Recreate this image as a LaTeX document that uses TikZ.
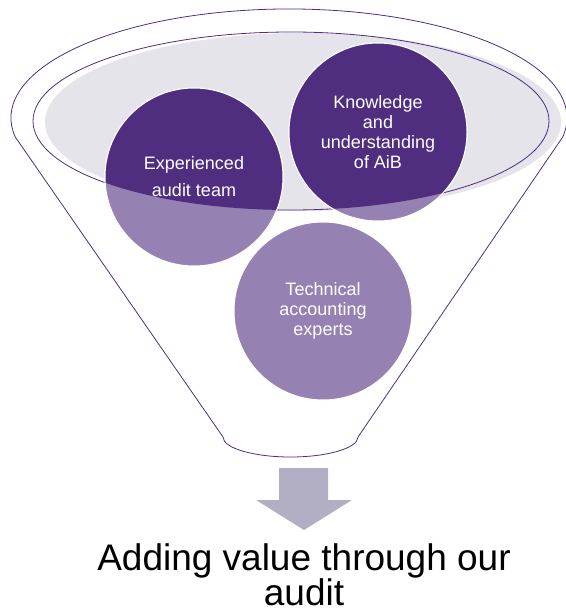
\documentclass[tikz,border=0pt]{standalone}
\usepackage{fontspec}
\setmainfont{Liberation Sans}
\usepackage{tikz}

\definecolor{gtpurple}{RGB}{79,45,127}
\definecolor{gtlilac}{RGB}{149,129,178}
\definecolor{funnelgrey}{RGB}{229,228,234}
\definecolor{arrowgrey}{RGB}{178,174,196}

\tikzset{
    rim/.style={draw=gtpurple, line width=0.8pt},
    bubble/.style={circle, minimum size=178pt, inner sep=0pt, fill=gtlilac, draw=white, line width=1pt},
    bubbletext/.style={text=white, align=center, font=\fontsize{18}{20}\selectfont}
}

\begin{document}
\begin{tikzpicture}[x=1pt, y=-1pt]
    \useasboundingbox (0,0) rectangle (565,612);
    % funnel outline
    \draw[rim] (223,437) -- (15.2,136.9)
        arc[start angle=170, end angle=370, x radius=278, y radius=109]
        -- (358,437)
        arc[start angle=0, end angle=180, x radius=67.5, y radius=20] -- cycle;
    % mouth of the funnel
    \fill[funnelgrey] (303,122) ellipse[x radius=258, y radius=89];
    \draw[rim] (291,121) ellipse[x radius=258, y radius=89];
    % circles
    \node[bubble] (team) at (194,177) {};
    \node[bubble] (know) at (378,132) {};
    \node[bubble] (tech) at (323,311) {};
    % part of the circles inside the mouth
    \begin{scope}
        \clip (291,121) ellipse[x radius=258, y radius=89];
        \filldraw[fill=gtpurple, draw=white, line width=1pt] (team.center) circle[radius=89];
        \filldraw[fill=gtpurple, draw=white, line width=1pt] (know.center) circle[radius=89];
    \end{scope}
    \node[bubbletext] (team label) at (team) {Experienced\\[7pt]audit team};
    \node[bubbletext] (know label) at (know) {Knowledge\\and\\understanding\\of AiB};
    \node[bubbletext] (tech label) at (tech) {Technical\\accounting\\experts};
    % arrow and result
    \fill[arrowgrey] (279,468) -- (328,468) -- (328,500) -- (352,500) -- (304,530)
        -- (256,500) -- (279,500) -- cycle;
    \node[font=\fontsize{37}{33}\selectfont, align=center, anchor=north, inner sep=0pt] (result) at (304,543) {Adding value through our\\audit};
\end{tikzpicture}
\end{document}
